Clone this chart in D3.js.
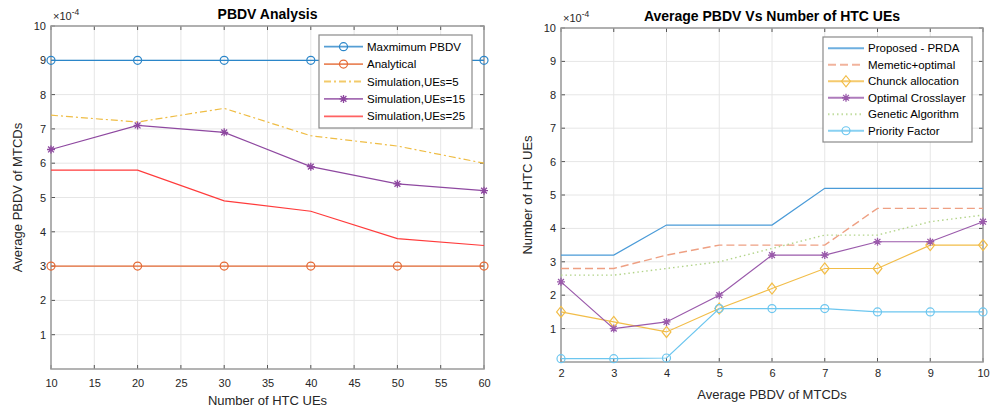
<!DOCTYPE html>
<html>
  <head>
    <style>
      body { margin: 0; background: #fff; }
      svg { font-family: "Liberation Sans", Arial, sans-serif; }
      .tick text { font-size: 11px; fill: #262626; }
      .title { font-size: 14px; font-weight: bold; text-anchor: middle; fill: #000; }
      .axis-label { font-size: 13px; text-anchor: middle; fill: #262626; }
      .legend text { font-size: 11.5px; fill: #000; }
    </style>
  </head>
  <body>
    <div id="chart"></div>
    <script src="https://d3js.org/d3.v7.min.js"></script>
    <script>
      // left panel data (values in units of 1e-4)
      const leftX = [10, 20, 30, 40, 50, 60];
      const maxPbdv = [9, 9, 9, 9, 9, 9];
      const analytical = [3, 3, 3, 3, 3, 3];
      const simUE5 = [7.4, 7.2, 7.6, 6.8, 6.5, 6.0];
      const simUE15 = [6.4, 7.1, 6.9, 5.9, 5.4, 5.2];
      const simUE25 = [5.8, 5.8, 4.9, 4.6, 3.8, 3.6];
      const leftXTicks = [10, 15, 20, 25, 30, 35, 40, 45, 50, 55, 60];

      // right panel data
      const rightX = [2, 3, 4, 5, 6, 7, 8, 9, 10];
      const proposed = [3.2, 3.2, 4.1, 4.1, 4.1, 5.2, 5.2, 5.2, 5.2];
      const memetic = [2.8, 2.8, 3.2, 3.5, 3.5, 3.5, 4.6, 4.6, 4.6];
      const chunck = [1.5, 1.2, 0.9, 1.6, 2.2, 2.8, 2.8, 3.5, 3.5];
      const crosslayer = [2.4, 1.0, 1.2, 2.0, 3.2, 3.2, 3.6, 3.6, 4.2];
      const genetic = [2.6, 2.6, 2.8, 3.0, 3.4, 3.8, 3.8, 4.2, 4.4];
      const priority = [0.1, 0.1, 0.12, 1.6, 1.6, 1.6, 1.5, 1.5, 1.5];
      const rightXTicks = [2, 3, 4, 5, 6, 7, 8, 9, 10];

      const yTicks = [1, 2, 3, 4, 5, 6, 7, 8, 9, 10];

      const svg = d3.select("#chart").append("svg")
        .attr("width", 991).attr("height", 412);

      function drawMarker(g, type, cx, cy, color) {
        if (type === "circle") {
          g.append("circle").attr("cx", cx).attr("cy", cy).attr("r", 4)
            .attr("fill", "none").attr("stroke", color).attr("stroke-width", 1.2);
        } else if (type === "diamond") {
          const s = 5.5;
          g.append("path")
            .attr("d", `M${cx},${cy - s}L${cx + s * 0.8},${cy}L${cx},${cy + s}L${cx - s * 0.8},${cy}Z`)
            .attr("fill", "none").attr("stroke", color).attr("stroke-width", 1.2);
        } else if (type === "star") {
          const s = 4, d = 2.9;
          g.append("path")
            .attr("d", `M${cx - s},${cy}L${cx + s},${cy}M${cx},${cy - s}L${cx},${cy + s}` +
              `M${cx - d},${cy - d}L${cx + d},${cy + d}M${cx - d},${cy + d}L${cx + d},${cy - d}`)
            .attr("stroke", color).attr("stroke-width", 1.3);
        }
      }

      function drawPanel(cfg) {
        const x = d3.scaleLinear().domain(cfg.xDomain).range([cfg.left, cfg.right]);
        const y = d3.scaleLinear().domain([0, 10]).range([cfg.bottom, cfg.top]);
        const g = svg.append("g");

        // grid
        g.selectAll(".gx").data(cfg.xTicks).enter().append("line")
          .attr("x1", (d) => x(d)).attr("x2", (d) => x(d))
          .attr("y1", cfg.top).attr("y2", cfg.bottom)
          .attr("stroke", "#e6e6e6").attr("stroke-width", 1);
        g.selectAll(".gy").data(yTicks).enter().append("line")
          .attr("x1", cfg.left).attr("x2", cfg.right)
          .attr("y1", (d) => y(d)).attr("y2", (d) => y(d))
          .attr("stroke", "#e6e6e6").attr("stroke-width", 1);

        // axes
        const xb = g.append("g").attr("transform", `translate(0,${cfg.bottom})`)
          .call(d3.axisBottom(x).tickValues(cfg.xTicks).tickSize(0).tickPadding(cfg.xPad));
        const yl = g.append("g").attr("transform", `translate(${cfg.left},0)`)
          .call(d3.axisLeft(y).tickValues(yTicks).tickSize(0).tickPadding(5));
        [xb, yl].forEach((a) => a.select(".domain").remove());

        // inner ticks on all sides
        const tl = 4;
        cfg.xTicks.forEach((t) => {
          g.append("line").attr("x1", x(t)).attr("x2", x(t)).attr("y1", cfg.bottom).attr("y2", cfg.bottom - tl).attr("stroke", "#555");
          g.append("line").attr("x1", x(t)).attr("x2", x(t)).attr("y1", cfg.top).attr("y2", cfg.top + tl).attr("stroke", "#555");
        });
        yTicks.forEach((t) => {
          g.append("line").attr("x1", cfg.left).attr("x2", cfg.left + tl).attr("y1", y(t)).attr("y2", y(t)).attr("stroke", "#555");
          g.append("line").attr("x1", cfg.right).attr("x2", cfg.right - tl).attr("y1", y(t)).attr("y2", y(t)).attr("stroke", "#555");
        });

        g.append("rect").attr("x", cfg.left).attr("y", cfg.top)
          .attr("width", cfg.right - cfg.left).attr("height", cfg.bottom - cfg.top)
          .attr("fill", "none").attr("stroke", "#9a9a9a").attr("stroke-width", 1.5);

        // series
        const line = d3.line().x((d) => x(d[0])).y((d) => y(d[1]));
        cfg.series.forEach((s) => {
          const pts = cfg.xs.map((v, i) => [v, s.values[i]]);
          g.append("path").datum(pts).attr("d", line)
            .attr("fill", "none").attr("stroke", s.color).attr("stroke-width", s.width || 1.2)
            .attr("stroke-dasharray", s.dash || null);
          if (s.marker) pts.forEach((p) => drawMarker(g, s.marker, x(p[0]), y(p[1]), s.color));
        });

        // exponent
        const ex = g.append("text").attr("x", cfg.left + 2).attr("y", cfg.top - 6)
          .attr("font-size", 11).attr("fill", "#262626");
        ex.append("tspan").text("\u00d710");
        ex.append("tspan").attr("dy", -5).attr("font-size", 8.5).text("-4");

        // title & labels
        g.append("text").attr("class", "title").attr("x", (cfg.left + cfg.right) / 2)
          .attr("y", cfg.titleY).text(cfg.title);
        g.append("text").attr("class", "axis-label").attr("x", (cfg.left + cfg.right) / 2)
          .attr("y", cfg.xLabelY).text(cfg.xLabel);
        g.append("text").attr("class", "axis-label")
          .attr("transform", `translate(${cfg.yLabelX},${(cfg.top + cfg.bottom) / 2}) rotate(-90)`)
          .text(cfg.yLabel);

        // legend
        const L = cfg.legend;
        const lg = g.append("g").attr("class", "legend");
        lg.append("rect").attr("x", L.x).attr("y", L.y).attr("width", L.w)
          .attr("height", L.rowH * cfg.series.length + 6)
          .attr("fill", "#fff").attr("stroke", "#8a8a8a").attr("stroke-width", 1.2);
        cfg.series.forEach((s, i) => {
          const cy = L.y + 3 + L.rowH * (i + 0.5);
          lg.append("line").attr("x1", L.x + 5).attr("x2", L.x + L.lineW)
            .attr("y1", cy).attr("y2", cy).attr("stroke", s.color)
            .attr("stroke-width", (s.width || 1.2) + 0.6).attr("stroke-dasharray", s.dash || null)
            .attr("stroke-opacity", 0.8);
          if (s.marker) drawMarker(lg, s.marker, L.x + 5 + (L.lineW - 5) / 2, cy, s.color);
          lg.append("text").attr("x", L.x + L.lineW + 4).attr("y", cy + 4).text(s.name);
        });
      }

      drawPanel({
        left: 51, right: 484, top: 26, bottom: 369,
        xDomain: [10, 60], xTicks: leftXTicks, xs: leftX, xPad: 10,
        title: "PBDV Analysis", titleY: 19,
        xLabel: "Number of HTC UEs", xLabelY: 405,
        yLabel: "Average PBDV of MTCDs", yLabelX: 22,
        legend: { x: 319, y: 35, w: 153, rowH: 17.4, lineW: 44 },
        series: [
          { name: "Maxmimum PBDV", values: maxPbdv, color: "#2b86c9", marker: "circle" },
          { name: "Analytical", values: analytical, color: "#e56a35", marker: "circle" },
          { name: "Simulation,UEs=5", values: simUE5, color: "#efbd45", dash: "7,3,2,3" },
          { name: "Simulation,UEs=15", values: simUE15, color: "#8e48a0", marker: "star" },
          { name: "Simulation,UEs=25", values: simUE25, color: "#ff3b3b" },
        ],
      });

      drawPanel({
        left: 561, right: 983, top: 28, bottom: 362,
        xDomain: [2, 10], xTicks: rightXTicks, xs: rightX, xPad: 7,
        title: "Average PBDV Vs Number of HTC UEs", titleY: 21,
        xLabel: "Average PBDV of MTCDs", xLabelY: 399,
        yLabel: "Number of HTC UEs", yLabelX: 532,
        legend: { x: 823, y: 37, w: 149, rowH: 16.5, lineW: 41 },
        series: [
          { name: "Proposed - PRDA", values: proposed, color: "#4a9bd8" },
          { name: "Memetic+optimal", values: memetic, color: "#eea083", dash: "8,4", width: 1.4 },
          { name: "Chunck allocation", values: chunck, color: "#f2bd48", marker: "diamond" },
          { name: "Optimal Crosslayer", values: crosslayer, color: "#9a5aab", marker: "star" },
          { name: "Genetic Algorithm", values: genetic, color: "#b3d48a", dash: "1.5,3", width: 1.4 },
          { name: "Priority Factor", values: priority, color: "#6cc6ef", marker: "circle" },
        ],
      });
    </script>
  </body>
</html>
